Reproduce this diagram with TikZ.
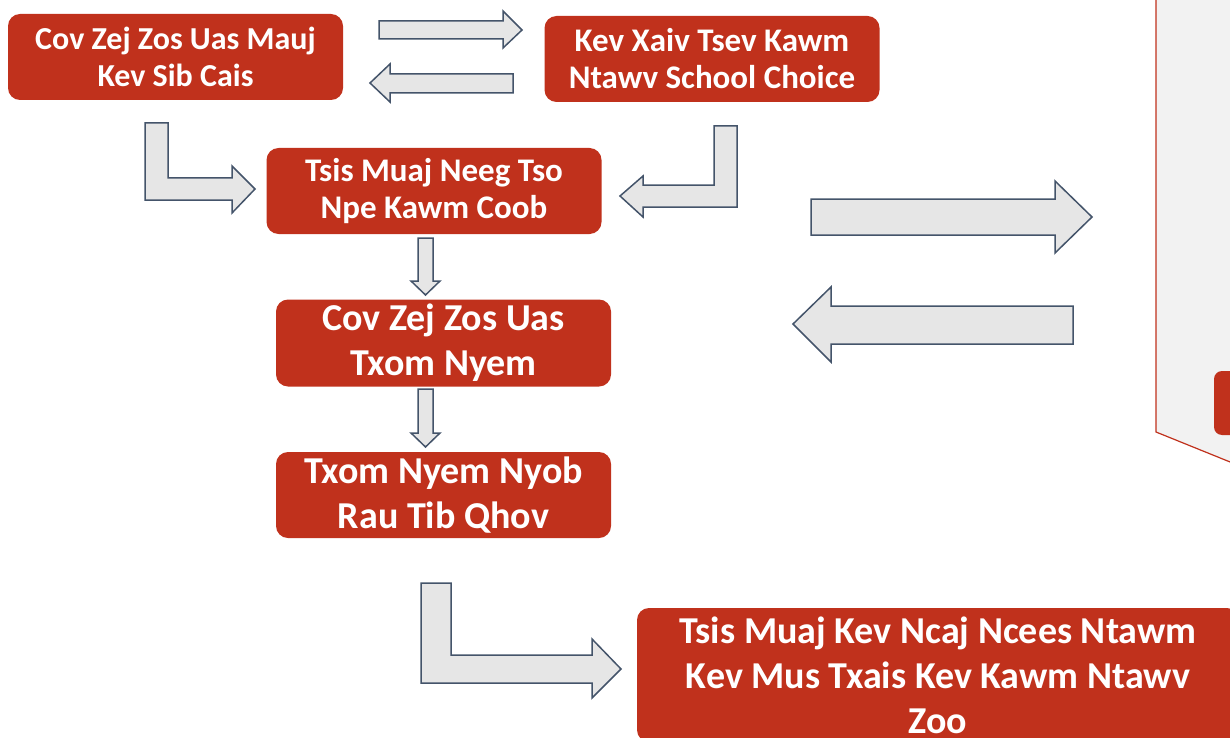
\documentclass[tikz,border=0pt]{standalone}
\usepackage{fontspec}
\setmainfont{Carlito}
\definecolor{boxred}{RGB}{192,49,28}
\definecolor{arrowgray}{RGB}{230,230,230}
\definecolor{arrowedge}{RGB}{68,84,106}
\definecolor{panelgray}{RGB}{242,242,242}
\tikzset{
  stepbox/.style={fill=boxred, text=white, rounded corners=12pt, inner sep=0pt,
    align=center, minimum width=335pt, minimum height=86pt},
  smalltext/.style={font=\bfseries\fontsize{32}{37}\selectfont},
  midtext/.style={font=\bfseries\fontsize{33}{37}\selectfont},
  bigtext/.style={font=\bfseries\fontsize{38}{45}\selectfont},
  blockarrow/.style={fill=arrowgray, draw=arrowedge, line width=1.5pt, line join=miter},
}
\begin{document}
\begin{tikzpicture}[x=1pt, y=-1pt]
\useasboundingbox (0,0) rectangle (1230,738);
\clip (0,0) rectangle (1230,738);

% panel on the right
\draw[fill=panelgray, draw=boxred, line width=1.2pt] (1156,-5)--(1156,432)--(1240,466)--(1240,-5)--cycle;
\fill[boxred, rounded corners=8pt] (1214,371) rectangle (1250,435);

% boxes
\node[stepbox, smalltext] (split) at (175.5,57) {Cov Zej Zos Uas Mauj\\Kev Sib Cais};
\node[stepbox, midtext] (choice) at (712,59) {Kev Xaiv Tsev Kawm\\Ntawv School Choice};
\node[stepbox, midtext] (nobody) at (434,191) {Tsis Muaj Neeg Tso\\Npe Kawm Coob};
\node[stepbox, bigtext, minimum height=87pt] (poor) at (443.5,343) {Cov Zej Zos Uas\\Txom Nyem};
\node[stepbox, bigtext] (onespot) at (443.5,495) {Txom Nyem Nyob\\Rau Tib Qhov};
\node[stepbox, bigtext, minimum width=602pt, minimum height=134pt] (unfair) at (938,675)
  {Tsis Muaj Kev Ncaj Ncees Ntawm\\Kev Mus Txais Kev Kawm Ntawv\\Zoo};

% arrows between the top boxes
\draw[blockarrow] (379,21)--(503,21)--(503,11)--(522,30)--(503,48)--(503,39)--(379,39)--cycle;
\draw[blockarrow] (513,74)--(390,74)--(390,64)--(370,83)--(390,102)--(390,93)--(513,93)--cycle;

% bent arrows
\draw[blockarrow] (145,123)--(168,123)--(168,178)--(232,178)--(232,166)--(255,189)--(232,213)--(232,200)--(145,200)--cycle;
\draw[blockarrow] (714,126)--(737,126)--(737,207)--(643,207)--(643,217)--(620,196)--(643,176)--(643,185)--(714,185)--cycle;
\draw[blockarrow] (421,583)--(451,583)--(451,655)--(592,655)--(592,639)--(621,669)--(592,698)--(592,683)--(421,683)--cycle;

% down arrows
\foreach \t/\b in {238/281,389/433}
{
\draw[blockarrow] (418,\t)--(433,\t)--(433,\b)--(440,\b)--(425.5,{\b+14})--(411,\b)--(418,\b)--cycle;
}

% big arrows
\draw[blockarrow] (811,199)--(1055,199)--(1055,181)--(1092,217)--(1055,253)--(1055,235)--(811,235)--cycle;
\draw[blockarrow] (1073,306)--(831,306)--(831,287)--(793,324)--(831,362)--(831,344)--(1073,344)--cycle;
\end{tikzpicture}
\end{document}
